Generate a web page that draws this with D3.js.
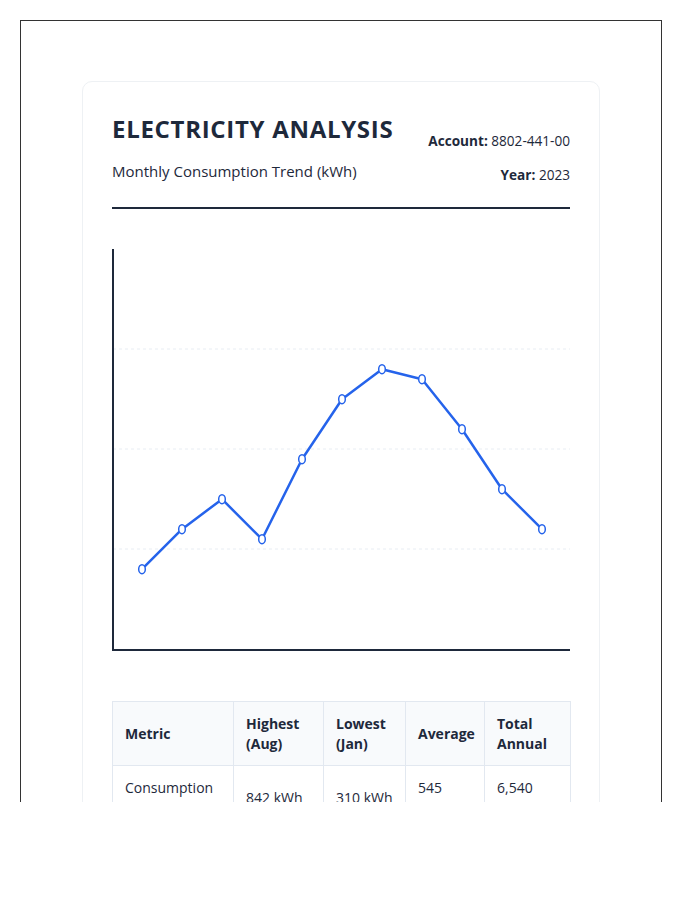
<!DOCTYPE html>
<html>
<head>
<meta charset="utf-8">
<script src="https://cdn.jsdelivr.net/npm/d3@7"></script>
<style>
  body { margin: 0; background: #fff; font-family: "Open Sans", "Noto Sans", sans-serif; color: #1e293b; }
  .frame { position: absolute; left: 20px; top: 20px; width: 642px; height: 782px; box-sizing: border-box;
           border: 1px solid #333; border-bottom: none; overflow: hidden; background: #fff; }
  .card { position: absolute; left: 61px; top: 60px; width: 518px; height: 800px; box-sizing: border-box;
          border: 1px solid #eef1f4; border-radius: 10px; padding: 0 29px; }
  svg { display: block; }
  table { border-collapse: collapse; width: 458px; margin-top: 19px; font-size: 14px; table-layout: fixed; }
  th, td { border: 1px solid #e2e8f0; padding: 12px 12px; text-align: left; line-height: 19.5px; vertical-align: middle; }
  th { background: #f8fafc; font-weight: 700; color: #1e293b; }
  td { color: #1e293b; }
</style>
</head>
<body>
<div class="frame"><div class="card" id="card"></div></div>
<script>
const months = ["Jan", "Feb", "Mar", "Apr", "May", "Jun", "Jul", "Aug", "Sep", "Oct", "Nov"];
const usage = [202, 302, 377, 277, 477, 627, 702, 677, 552, 402, 302];
const gridValues = [250, 500, 750];

const tableHeaders = ["Metric", "Highest (Aug)", "Lowest (Jan)", "Average", "Total Annual"];
const tableRow = ["Consumption (kWh)", "842 kWh", "310 kWh", "545 kWh", "6,540 kWh"];
const colWidths = [121, 90, 82, 79, 86];

const width = 458;
const height = 600;
const card = d3.select("#card");

const svg = card.append("svg")
    .attr("width", width)
    .attr("height", height);

// header
svg.append("text")
    .attr("x", 0).attr("y", 56)
    .style("font-size", "24px").style("font-weight", 700)
    .style("letter-spacing", "0.7px")
    .attr("fill", "#1e293b")
    .text("ELECTRICITY ANALYSIS");

svg.append("text")
    .attr("x", 0).attr("y", 95)
    .style("font-size", "15px")
    .attr("fill", "#1e293b")
    .text("Monthly Consumption Trend (kWh)");

const meta = [["Account:", "8802-441-00", 64], ["Year:", "2023", 98]];
meta.forEach(m => {
    const t = svg.append("text")
        .attr("x", width).attr("y", m[2])
        .attr("text-anchor", "end")
        .style("font-size", "13.6px")
        .attr("fill", "#1e293b");
    t.append("tspan").style("font-weight", 700).text(m[0] + " ");
    t.append("tspan").text(m[1]);
});

svg.append("line")
    .attr("x1", 0).attr("x2", width)
    .attr("y1", 126).attr("y2", 126)
    .attr("stroke", "#1e293b").attr("stroke-width", 2);

// chart
const chartTop = 168, chartBottom = 568;

const xScale = d3.scalePoint()
    .domain(months)
    .range([30, 430]);

const yScale = d3.scaleLinear()
    .domain([0, 1000])
    .range([chartBottom, chartTop]);

svg.selectAll(".grid")
    .data(gridValues)
    .join("line")
    .attr("class", "grid")
    .attr("x1", 1).attr("x2", width)
    .attr("y1", d => yScale(d) - 1).attr("y2", d => yScale(d) - 1)
    .attr("stroke", "#e8edf3")
    .attr("stroke-dasharray", "3,3");

svg.append("line")
    .attr("x1", 1).attr("x2", 1)
    .attr("y1", yScale(1000) - 1).attr("y2", chartBottom)
    .attr("stroke", "#1e293b").attr("stroke-width", 2);

svg.append("line")
    .attr("x1", 0).attr("x2", width + 1)
    .attr("y1", chartBottom).attr("y2", chartBottom)
    .attr("stroke", "#1e293b").attr("stroke-width", 2);

const line = d3.line()
    .x((d, i) => xScale(months[i]))
    .y(d => yScale(d));

svg.append("path")
    .datum(usage)
    .attr("d", line)
    .attr("fill", "none")
    .attr("stroke", "#2563eb")
    .attr("stroke-width", 2.5)
    .attr("stroke-linejoin", "round");

svg.selectAll(".pt")
    .data(usage)
    .join("ellipse")
    .attr("class", "pt")
    .attr("cx", (d, i) => xScale(months[i]))
    .attr("cy", d => yScale(d))
    .attr("rx", 3.3).attr("ry", 4.5)
    .attr("fill", "#fff")
    .attr("stroke", "#2563eb")
    .attr("stroke-width", 1.5);

// summary table
const table = card.append("table");
table.append("colgroup").selectAll("col")
    .data(colWidths)
    .join("col")
    .style("width", d => d + "px");

table.append("thead").append("tr")
    .selectAll("th")
    .data(tableHeaders)
    .join("th")
    .text(d => d);

table.append("tbody").append("tr")
    .selectAll("td")
    .data(tableRow)
    .join("td")
    .text(d => d);
</script>
</body>
</html>
